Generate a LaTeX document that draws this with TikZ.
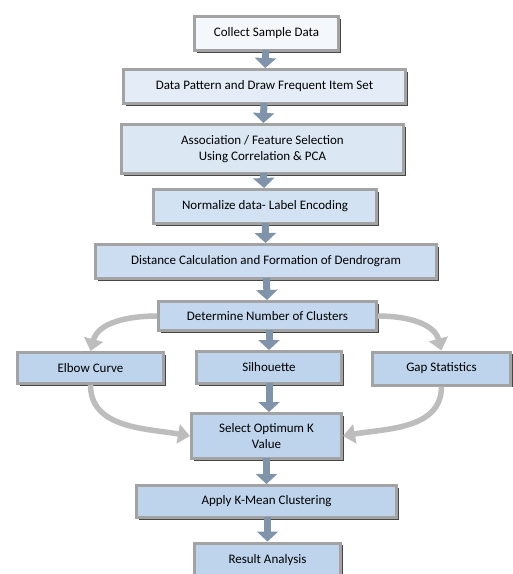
\documentclass[tikz,border=0pt]{standalone}
\usepackage{fontspec}
\setmainfont{Carlito}
\usetikzlibrary{arrows.meta,shadows}
\definecolor{boxline}{HTML}{A3A3A3}
\definecolor{arrowblue}{HTML}{7F93AA}
\definecolor{curvegray}{HTML}{BDBDBD}
\definecolor{fillA}{HTML}{F4F7FB}
\definecolor{fillB}{HTML}{E4EDF7}
\definecolor{fillC}{HTML}{DCE7F4}
\definecolor{fillD}{HTML}{D2E2F3}
\definecolor{fillE}{HTML}{CCDDF1}
\definecolor{fillF}{HTML}{C3D8EE}
\definecolor{fillG}{HTML}{BDD4EC}

\begin{document}
\begin{tikzpicture}[x=1pt,y=-1pt]
    \tikzstyle{every node}+=[inner sep=0pt]
    \tikzstyle{box}=[draw=boxline, line width=3pt, align=center, font=\fontsize{13}{16}\selectfont,
        drop shadow={shadow xshift=2pt, shadow yshift=-2.4pt, fill=black!72, opacity=1}]
    \tikzstyle{blockarrow}=[draw=arrowblue, line width=7pt, -{Triangle[width=21pt,length=10pt]}, shorten <=-2pt]
    \tikzstyle{curvearrow}=[draw=curvegray, line width=5.5pt, -{Triangle[width=19pt,length=12pt]}]
    \useasboundingbox (0,0) rectangle (513,574);
    \fill[white] (0,0) rectangle (513,574);
    \node[box, fill=fillA, minimum width=144pt, minimum height=34pt] (collect) at (266.5,33.5) {Collect Sample Data};
    \node[box, fill=fillB, minimum width=282pt, minimum height=34pt] (pattern) at (264.5,86.5) {Data Pattern and Draw Frequent Item Set};
    \node[box, fill=fillC, minimum width=282pt, minimum height=49pt] (assoc) at (262.5,149) {Association / Feature Selection\\Using Correlation \& PCA};
    \node[box, fill=fillD, minimum width=223pt, minimum height=34pt] (normalize) at (265,206.5) {Normalize data- Label Encoding};
    \node[box, fill=fillE, minimum width=341pt, minimum height=34pt] (distance) at (266,261.5) {Distance Calculation and Formation of Dendrogram};
    \node[box, fill=fillF, minimum width=218pt, minimum height=29pt] (determine) at (267.5,316) {Determine Number of Clusters};
    \node[box, fill=fillG, minimum width=146pt, minimum height=31pt] (elbow) at (90.5,368) {Elbow Curve};
    \node[box, fill=fillG, minimum width=145pt, minimum height=32pt] (silhouette) at (269,367.5) {Silhouette};
    \node[box, fill=fillG, minimum width=138pt, minimum height=33pt] (gap) at (441.5,368.5) {Gap Statistics};
    \node[box, fill=fillG, minimum width=150pt, minimum height=45pt] (select) at (266.5,436) {Select Optimum K\\Value};
    \node[box, fill=fillG, minimum width=260pt, minimum height=32pt] (apply) at (266.5,501.5) {Apply K-Mean Clustering};
    \node[box, fill=fillG, minimum width=146pt, minimum height=44pt, text depth=12pt] (result) at (267.5,565) {Result Analysis};
    \draw[blockarrow] (collect) -- (pattern);
    \draw[blockarrow] (pattern) -- (assoc);
    \draw[blockarrow] (assoc) -- (normalize);
    \draw[blockarrow] (normalize) -- (distance);
    \draw[blockarrow] (distance) -- (determine);
    \draw[blockarrow] (determine.south -| silhouette.north) -- (silhouette.north);
    \draw[blockarrow] (silhouette) -- (select.north -| silhouette.south);
    \draw[blockarrow] (select) -- (apply);
    \draw[blockarrow] (apply.south -| result.north) -- (result.north);
    \draw[curvearrow] (determine.west) to[out=180, in=75] (elbow.north);
    \draw[curvearrow] (determine.east) to[out=0, in=105] (gap.north);
    \draw[curvearrow] (elbow.south) to[out=-90, in=170] (select.west);
    \draw[curvearrow] (gap.south) to[out=-90, in=10] (select.east);
\end{tikzpicture}
\end{document}
